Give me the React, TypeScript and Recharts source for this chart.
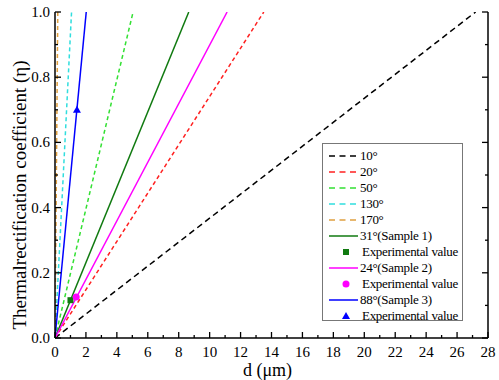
import React from "react";
import { ComposedChart, Line, Scatter, XAxis, YAxis, Legend, Label } from "recharts";

/* Values */
const dashedNames = ["10°", "20°", "50°", "130°", "170°"];
const dashedEndD = [27.2, 13.5, 5.05, 1.07, 0.18];
const dashedColors = ["#000000", "#ff2020", "#33e033", "#30dede", "#e0a040"];
const dashedPattern = ["6 4", "4 3", "4 3", "4 3", "4 3"];

const sampleNames = ["31°(Sample 1)", "24°(Sample 2)", "88°(Sample 3)"];
const sampleEndD = [8.65, 11.13, 2.02];
const sampleColors = ["#107a10", "#ff00ff", "#0000ff"];
const expD = [1.0, 1.37, 1.42];
const expEta = [0.116, 0.126, 0.7];
const expShapes = ["square", "circle", "triangle"];

const xTicks = [0, 1, 2, 3, 4, 5, 6, 7, 8, 9, 10, 11, 12, 13, 14, 15, 16, 17, 18, 19, 20, 21, 22, 23, 24, 25, 26, 27, 28];
const yTicks = [0, 0.1, 0.2, 0.3, 0.4, 0.5, 0.6, 0.7, 0.8, 0.9, 1.0];

const FONT = "Liberation Serif, Times New Roman, Times, serif";
const AXIS = "#000";

const lineData = (end: number) => [
  { x: 0, y: 0 },
  { x: end, y: 1 },
];

function BottomTick({ x, y, payload }: any) {
  const major = payload.value % 2 === 0;
  return (
    <g>
      <line x1={x} x2={x} y1={y} y2={y - (major ? 6 : 3)} stroke={AXIS} strokeWidth={1.3} />
      {major && (
        <text x={x} y={y + 19} textAnchor="middle" style={{ fontSize: 15, fontFamily: FONT }} fill="#000">
          {payload.value}
        </text>
      )}
    </g>
  );
}

function TopTick({ x, y, payload }: any) {
  const major = payload.value % 2 === 0;
  return <line x1={x} x2={x} y1={y} y2={y + (major ? 6 : 3)} stroke={AXIS} strokeWidth={1.3} />;
}

function LeftTick({ x, y, payload }: any) {
  const major = Math.round(payload.value * 10) % 2 === 0;
  return (
    <g>
      <line x1={x} x2={x + (major ? 6 : 3)} y1={y} y2={y} stroke={AXIS} strokeWidth={1.3} />
      {major && (
        <text x={x - 5} y={y + 5} textAnchor="end" style={{ fontSize: 15, fontFamily: FONT }} fill="#000">
          {payload.value.toFixed(1)}
        </text>
      )}
    </g>
  );
}

function RightTick({ x, y, payload }: any) {
  const major = Math.round(payload.value * 10) % 2 === 0;
  return <line x1={x} x2={x - (major ? 6 : 3)} y1={y} y2={y} stroke={AXIS} strokeWidth={1.3} />;
}

function Marker({ kind, cx, cy, color }: { kind: string; cx: number; cy: number; color: string }) {
  if (kind === "square") return <rect x={cx - 3} y={cy - 3} width={6} height={6} fill={color} />;
  if (kind === "circle") return <circle cx={cx} cy={cy} r={3.5} fill={color} />;
  return <polygon points={`${cx},${cy - 4} ${cx - 4},${cy + 3} ${cx + 4},${cy + 3}`} fill={color} />;
}

const rowStyle: React.CSSProperties = { display: "flex", alignItems: "center", height: 16 };
const keyStyle: React.CSSProperties = { flexShrink: 0, display: "block" };

function LegendBox() {
  const rows: React.ReactNode[] = [];
  dashedNames.forEach((n, i) =>
    rows.push(
      <div key={n} style={rowStyle}>
        <svg width={37} height={16} style={keyStyle}>
          <line x1={6} x2={35} y1={8} y2={8} stroke={dashedColors[i]} strokeWidth={1.5} strokeDasharray="6 4.5" />
        </svg>
        <span>{n}</span>
      </div>
    )
  );
  sampleNames.forEach((n, i) => {
    rows.push(
      <div key={n} style={rowStyle}>
        <svg width={37} height={16} style={keyStyle}>
          <line x1={6} x2={35} y1={8} y2={8} stroke={sampleColors[i]} strokeWidth={1.5} />
        </svg>
        <span>{n}</span>
      </div>
    );
    rows.push(
      <div key={n + "exp"} style={rowStyle}>
        <svg width={39} height={16} style={keyStyle}>
          <Marker kind={expShapes[i]} cx={23} cy={8} color={sampleColors[i]} />
        </svg>
        <span>Experimental value</span>
      </div>
    );
  });
  return (
    <div
      style={{
        border: "1px solid #777",
        background: "#fff",
        padding: "4px 0 0 0",
        boxSizing: "border-box",
        width: 141,
        height: 178,
        fontFamily: FONT,
        fontSize: 13,
        letterSpacing: -0.3,
        color: "#000",
        lineHeight: "16px",
        whiteSpace: "nowrap",
      }}
    >
      {rows}
    </div>
  );
}

export default function App() {
  return (
    <div style={{ position: "absolute", left: 0, top: 0, width: 499, height: 380, background: "#fff", fontFamily: FONT }}>
      <ComposedChart width={499} height={380} margin={{ top: 12, right: 0, bottom: 0, left: 0 }}>
        <XAxis
          xAxisId="bottom"
          dataKey="x"
          type="number"
          domain={[0, 28]}
          ticks={xTicks}
          interval={0}
          tickSize={0}
          tickMargin={0}
          tick={<BottomTick />}
          height={42}
          stroke={AXIS}
          strokeWidth={1.5}
          allowDataOverflow
        >
          <Label value="d (μm)" position="center" dx={-4} dy={11} style={{ fontSize: 18, fontFamily: FONT, fill: "#000" }} />
        </XAxis>
        <XAxis
          xAxisId="top"
          orientation="top"
          dataKey="x"
          type="number"
          domain={[0, 28]}
          ticks={xTicks}
          interval={0}
          tickSize={0}
          tickMargin={0}
          tick={<TopTick />}
          height={0}
          stroke={AXIS}
          strokeWidth={1.5}
          allowDataOverflow
        />
        <YAxis
          yAxisId="left"
          dataKey="y"
          type="number"
          domain={[0, 1]}
          ticks={yTicks}
          interval={0}
          tickSize={0}
          tickMargin={0}
          tick={<LeftTick />}
          width={55}
          stroke={AXIS}
          strokeWidth={1.5}
          allowDataOverflow
        >
          <Label
            value="Thermalrectification coefficient (η)"
            angle={-90}
            position="center"
            dx={-8}
            dy={20}
            style={{ fontSize: 19, fontFamily: FONT, fill: "#000", textAnchor: "middle" }}
          />
        </YAxis>
        <YAxis
          yAxisId="right"
          orientation="right"
          dataKey="y"
          type="number"
          domain={[0, 1]}
          ticks={yTicks}
          interval={0}
          tickSize={0}
          tickMargin={0}
          tick={<RightTick />}
          width={11}
          stroke={AXIS}
          strokeWidth={1.5}
          allowDataOverflow
        />
        <Legend
          layout="horizontal"
          verticalAlign="middle"
          align="center"
          content={() => <LegendBox />}
          wrapperStyle={{ left: 322, top: 143, width: 141 }}
        />
        {dashedNames.map((n, i) => (
          <Line
            key={n}
            xAxisId="bottom"
            yAxisId="left"
            data={lineData(dashedEndD[i])}
            dataKey="y"
            name={n}
            stroke={dashedColors[i]}
            strokeWidth={1.5}
            strokeDasharray={dashedPattern[i]}
            dot={false}
            activeDot={false}
            isAnimationActive={false}
          />
        ))}
        {sampleNames.map((n, i) => (
          <Line
            key={n}
            xAxisId="bottom"
            yAxisId="left"
            data={lineData(sampleEndD[i])}
            dataKey="y"
            name={n}
            stroke={sampleColors[i]}
            strokeWidth={1.5}
            dot={false}
            activeDot={false}
            isAnimationActive={false}
          />
        ))}
        {sampleNames.map((n, i) => (
          <Scatter
            key={n + "exp"}
            xAxisId="bottom"
            yAxisId="left"
            data={[{ x: expD[i], y: expEta[i] }]}
            dataKey="y"
            name="Experimental value"
            fill={sampleColors[i]}
            shape={(p: any) => <Marker kind={expShapes[i]} cx={p.cx} cy={p.cy} color={sampleColors[i]} />}
            isAnimationActive={false}
          />
        ))}
      </ComposedChart>
    </div>
  );
}
